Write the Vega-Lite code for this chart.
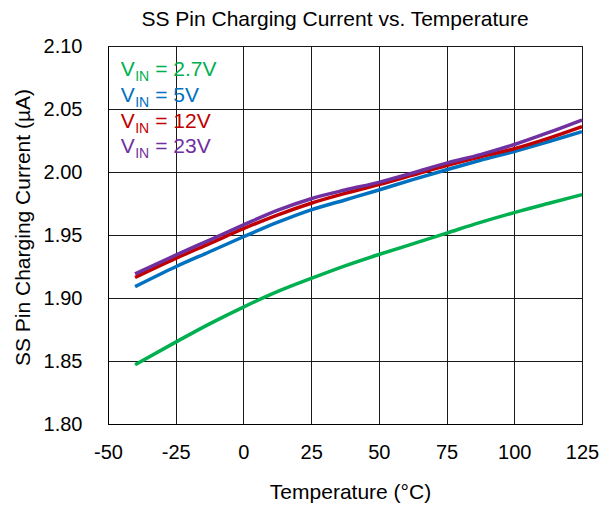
{
  "$schema": "https://vega.github.io/schema/vega-lite/v6.json",
  "width": 474,
  "height": 378,
  "autosize": {"type": "none"},
  "padding": {"left": 108, "top": 46, "right": 28, "bottom": 83},
  "background": "white",
  "title": {
    "text": "SS Pin Charging Current vs. Temperature",
    "font": "Liberation Sans",
    "fontSize": 21,
    "fontWeight": "normal",
    "color": "black",
    "anchor": "middle",
    "frame": "group",
    "dx": -10,
    "offset": -10.5,
    "baseline": "alphabetic"
  },
  "config": {
    "view": {"stroke": "black", "strokeWidth": 1},
    "font": "Liberation Sans",
    "axis": {
      "grid": true,
      "gridColor": "#1a1a1a",
      "gridOpacity": 1,
      "gridWidth": 1,
      "domainColor": "black",
      "ticks": false,
      "tickSize": 0,
      "labelFlush": false,
      "labelFont": "Liberation Sans",
      "labelFontSize": 20,
      "labelColor": "black",
      "titleFont": "Liberation Sans",
      "titleFontSize": 21,
      "titleFontWeight": "normal",
      "titleColor": "black"
    }
  },
  "layer": [
    {
      "data": {
        "values": [
          {"vin": "2.7V", "t": -40, "i": 1.847},
          {"vin": "2.7V", "t": -25, "i": 1.865},
          {"vin": "2.7V", "t": -12.5, "i": 1.8795},
          {"vin": "2.7V", "t": 0, "i": 1.8928},
          {"vin": "2.7V", "t": 12.5, "i": 1.905},
          {"vin": "2.7V", "t": 25, "i": 1.9155},
          {"vin": "2.7V", "t": 37.5, "i": 1.9255},
          {"vin": "2.7V", "t": 50, "i": 1.9345},
          {"vin": "2.7V", "t": 62.5, "i": 1.943},
          {"vin": "2.7V", "t": 75, "i": 1.9515},
          {"vin": "2.7V", "t": 87.5, "i": 1.960},
          {"vin": "2.7V", "t": 100, "i": 1.9678},
          {"vin": "2.7V", "t": 112.5, "i": 1.975},
          {"vin": "2.7V", "t": 125, "i": 1.982},
          {"vin": "5V", "t": -40, "i": 1.909},
          {"vin": "5V", "t": -25, "i": 1.9248},
          {"vin": "5V", "t": -12.5, "i": 1.9367},
          {"vin": "5V", "t": 0, "i": 1.9486},
          {"vin": "5V", "t": 12.5, "i": 1.9600},
          {"vin": "5V", "t": 25, "i": 1.970},
          {"vin": "5V", "t": 37.5, "i": 1.9778},
          {"vin": "5V", "t": 50, "i": 1.9857},
          {"vin": "5V", "t": 62.5, "i": 1.9940},
          {"vin": "5V", "t": 75, "i": 2.0018},
          {"vin": "5V", "t": 87.5, "i": 2.0093},
          {"vin": "5V", "t": 100, "i": 2.0163},
          {"vin": "5V", "t": 112.5, "i": 2.024},
          {"vin": "5V", "t": 125, "i": 2.032},
          {"vin": "12V", "t": -40, "i": 1.9163},
          {"vin": "12V", "t": -25, "i": 1.9314},
          {"vin": "12V", "t": -12.5, "i": 1.9432},
          {"vin": "12V", "t": 0, "i": 1.955},
          {"vin": "12V", "t": 12.5, "i": 1.9658},
          {"vin": "12V", "t": 25, "i": 1.9752},
          {"vin": "12V", "t": 37.5, "i": 1.983},
          {"vin": "12V", "t": 50, "i": 1.990},
          {"vin": "12V", "t": 62.5, "i": 1.9976},
          {"vin": "12V", "t": 75, "i": 2.0052},
          {"vin": "12V", "t": 87.5, "i": 2.0121},
          {"vin": "12V", "t": 100, "i": 2.0185},
          {"vin": "12V", "t": 112.5, "i": 2.0267},
          {"vin": "12V", "t": 125, "i": 2.036},
          {"vin": "23V", "t": -40, "i": 1.9192},
          {"vin": "23V", "t": -25, "i": 1.934},
          {"vin": "23V", "t": -12.5, "i": 1.946},
          {"vin": "23V", "t": 0, "i": 1.958},
          {"vin": "23V", "t": 12.5, "i": 1.9695},
          {"vin": "23V", "t": 25, "i": 1.9788},
          {"vin": "23V", "t": 37.5, "i": 1.9857},
          {"vin": "23V", "t": 50, "i": 1.9918},
          {"vin": "23V", "t": 62.5, "i": 1.9992},
          {"vin": "23V", "t": 75, "i": 2.007},
          {"vin": "23V", "t": 87.5, "i": 2.0138},
          {"vin": "23V", "t": 100, "i": 2.0218},
          {"vin": "23V", "t": 112.5, "i": 2.0312},
          {"vin": "23V", "t": 125, "i": 2.0413}
        ]
      },
      "mark": {"type": "line", "strokeWidth": 3.5, "interpolate": "monotone"},
      "encoding": {
        "x": {
          "field": "t",
          "type": "quantitative",
          "scale": {"domain": [-50, 125], "nice": false, "zero": false},
          "axis": {
            "values": [-50, -25, 0, 25, 50, 75, 100, 125],
            "labelExpr": "toString(datum.value)",
            "title": "Temperature (°C)",
            "labelPadding": 18,
            "titleX": 242,
            "titleY": 74,
            "titleBaseline": "alphabetic"
          }
        },
        "y": {
          "field": "i",
          "type": "quantitative",
          "scale": {"domain": [1.8, 2.1], "nice": false, "zero": false},
          "axis": {
            "values": [1.8, 1.85, 1.9, 1.95, 2.0, 2.05, 2.1],
            "format": ".2f",
            "title": "SS Pin Charging Current (µA)",
            "labelPadding": 26,
            "titleX": -79,
            "titleY": 181,
            "titleBaseline": "alphabetic"
          }
        },
        "color": {
          "field": "vin",
          "type": "nominal",
          "scale": {"domain": ["2.7V", "5V", "12V", "23V"], "range": ["#00B050", "#0070C0", "#C00000", "#7030A0"]},
          "legend": null
        }
      }
    },
    {
      "data": {
        "values": [
          {"vin": "2.7V", "rank": 1, "label": "= 2.7V"},
          {"vin": "5V", "rank": 2, "label": "= 5V"},
          {"vin": "12V", "rank": 3, "label": "= 12V"},
          {"vin": "23V", "rank": 4, "label": "= 23V"}
        ]
      },
      "encoding": {
        "y": {
          "field": "rank",
          "type": "quantitative",
          "scale": {"domain": [-0.196, 14.627], "reverse": true, "nice": false, "zero": false},
          "axis": null
        },
        "x": {"datum": -45.3, "type": "quantitative"},
        "color": {"field": "vin", "type": "nominal", "legend": null}
      },
      "layer": [
        {
          "data": {"values": [{"box": "legend"}]},
          "mark": {"type": "rect", "fill": "white", "stroke": null},
          "encoding": {
            "x": {"datum": -45.6, "type": "quantitative"},
            "x2": {"datum": -4.6},
            "y": {"datum": 0.078, "type": "quantitative"},
            "y2": {"datum": 4.39},
            "color": {"value": "white"}
          }
        },
        {
          "mark": {"type": "text", "text": "V", "fontSize": 21, "align": "left", "baseline": "alphabetic", "font": "Liberation Sans"}
        },
        {
          "mark": {"type": "text", "text": "IN", "fontSize": 14, "align": "left", "baseline": "alphabetic", "dx": 14.5, "dy": 5, "font": "Liberation Sans"}
        },
        {
          "mark": {"type": "text", "fontSize": 21, "align": "left", "baseline": "alphabetic", "dx": 34.5, "font": "Liberation Sans"},
          "encoding": {"text": {"field": "label"}}
        }
      ]
    }
  ],
  "resolve": {"scale": {"y": "independent"}}
}
